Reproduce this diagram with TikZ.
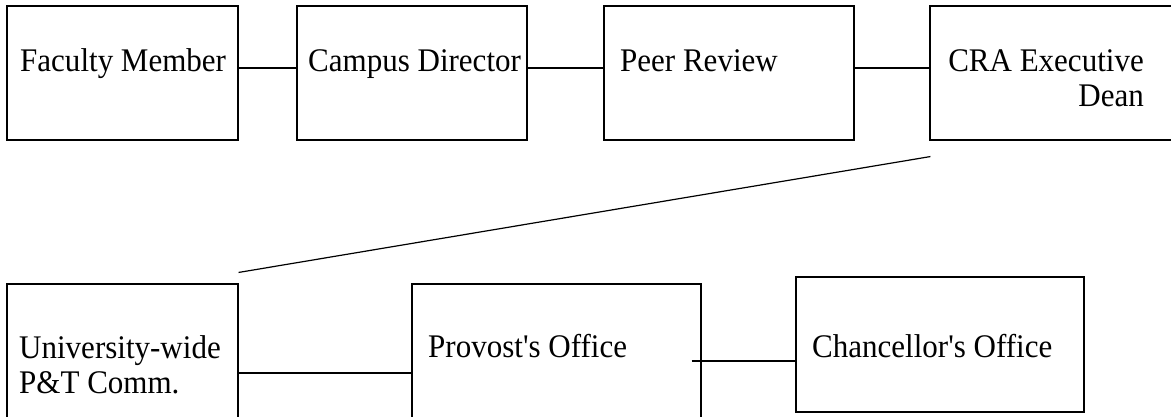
\documentclass[tikz,border=0pt]{standalone}
\usepackage{fontspec}
\setmainfont{Liberation Serif}[FakeStretch=0.94,Ligatures=TeXOff]
\begin{document}
\begin{tikzpicture}[x=1pt,y=-1pt,
  box/.style={draw,line width=1.1pt,rectangle,inner sep=0pt},
  lbl/.style={inner sep=0pt,font=\fontsize{33}{35}\selectfont},
  conn/.style={line width=1.2pt}]
\useasboundingbox (0,0) rectangle (1171,416);
\clip (0,0) rectangle (1171,416);
% boxes
\node[box,minimum width=231pt,minimum height=134pt] (fm) at (122.5,73) {};
\node[box,minimum width=230pt,minimum height=134pt] (cd) at (412,73) {};
\node[box,minimum width=250pt,minimum height=134pt] (pr) at (729,73) {};
\node[box,minimum width=260pt,minimum height=134pt] (cra) at (1060,73) {};
\node[box,minimum width=231pt,minimum height=146pt] (uw) at (122.5,357) {};
\node[box,minimum width=289pt,minimum height=146pt] (po) at (556.5,357) {};
\node[box,minimum width=288pt,minimum height=135pt] (ch) at (940,344.5) {};
% labels
\node[lbl,anchor=base west] (fmT) at (20,71) {Faculty Member};
\node[lbl,anchor=base west] (cdT) at (308,71) {Campus Director};
\node[lbl,anchor=base west] (prT) at (620,71) {Peer Review};
\node[lbl,anchor=base east] (craT1) at (1144,71) {CRA Executive};
\node[lbl,anchor=base east] (craT2) at (1144,106) {Dean};
\node[lbl,anchor=base west] (uwT1) at (19,358) {University-wide};
\node[lbl,anchor=base west] (uwT2) at (19,393) {P\&T Comm.};
\node[lbl,anchor=base west] (poT) at (428,357) {Provost's Office};
\node[lbl,anchor=base west] (chT) at (812,357) {Chancellor's Office};
% connectors
\draw[conn] ([yshift=5pt]fm.east) -- ([yshift=5pt]cd.west);
\draw[conn] ([yshift=5pt]cd.east) -- ([yshift=5pt]pr.west);
\draw[conn] ([yshift=5pt]pr.east) -- ([yshift=5pt]cra.west);
\coordinate (dA) at ([xshift=1pt,yshift=-16pt]cra.south west);
\coordinate (dB) at ([yshift=11pt]uw.north east);
\draw[conn] (dA) -- (dB);
\draw[conn] ([yshift=-16pt]uw.east) -- ([yshift=-16pt]po.west);
\coordinate (pcA) at ([xshift=-10pt,yshift=-4pt]po.east);
\draw[conn,line width=1.6pt] (pcA) -- ([yshift=-16.5pt]ch.west);
\end{tikzpicture}
\end{document}
